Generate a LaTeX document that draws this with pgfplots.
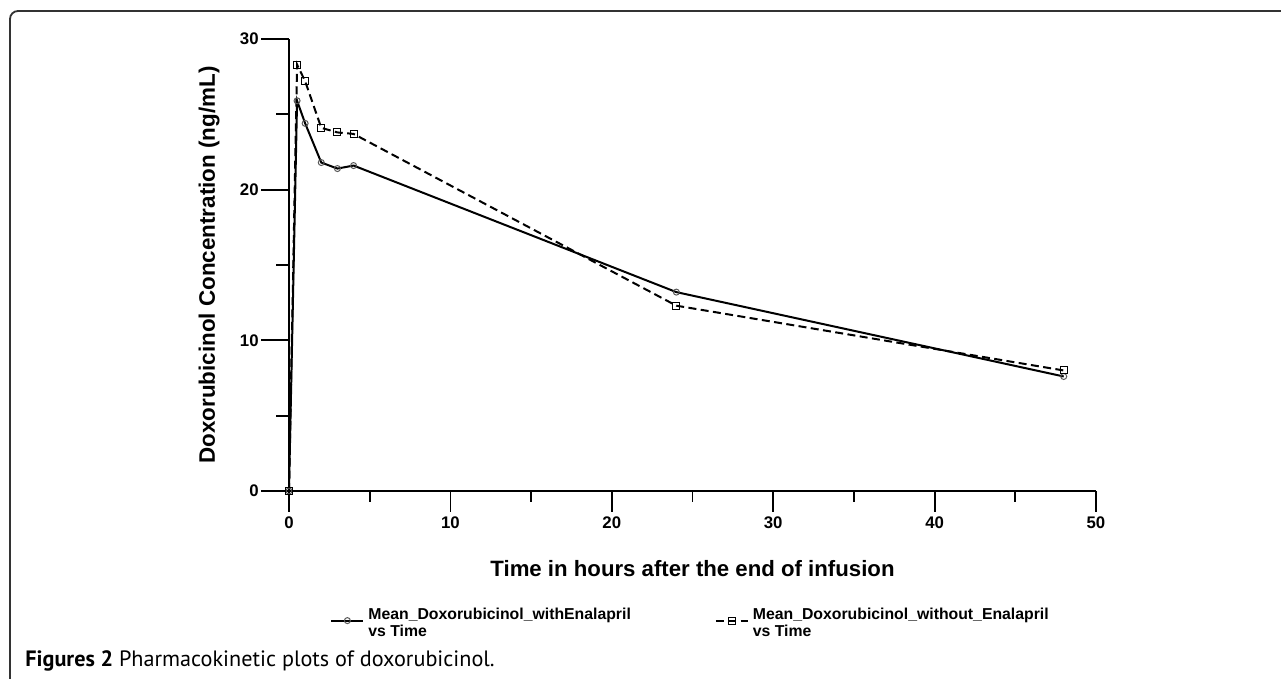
\documentclass[border=0pt]{standalone}
\usepackage{fontspec}
\setmainfont{Liberation Sans}
\newfontfamily\capfont{PT Sans}
\usepackage{pgfplots}
\pgfplotsset{compat=1.18}

% mean concentrations (ng/mL) vs time (h)
\pgfplotstableread{
t    c
0    0
0.5  25.9
1    24.4
2    21.8
3    21.4
4    21.6
24   13.2
48   7.6
}\withEna
\pgfplotstableread{
t    c
0    0
0.5  28.3
1    27.2
2    24.1
3    23.8
4    23.7
24   12.3
48   8.0
}\withoutEna

\pgfplotsset{
  common/.style={
    at={(144.5pt,94pt)}, anchor=south west,
    scale only axis, width=403.5pt, height=226pt,
    xmin=0, xmax=50, ymin=0, ymax=30,
    tick align=outside,
    axis line style={line width=1pt},
    every tick/.style={black, line width=0.9pt},
    /pgf/number format/assume math mode=true,
    ticklabel style={font=\fontsize{8.4}{9}\selectfont\bfseries},
  },
}

\begin{document}
\begin{tikzpicture}
\path[use as bounding box] (0,0) rectangle (640.5pt,339.5pt);
\draw[black!80, line width=0.9pt, rounded corners=4pt] (5pt,-1pt) -- (5pt,334pt) -- (642pt,334pt);

% y axis only
\begin{axis}[common,
  axis y line*=left, axis x line=none,
  ytick={0,10,20,30}, minor ytick={5,15,25},
  major tick length=14pt, minor tick length=6.5pt,
  yticklabel style={inner sep=1pt},
  ylabel={Doxorubicinol Concentration (ng/mL)},
  ylabel style={at={(axis description cs:-0.099,0.5)}, anchor=center,
    font=\fontsize{11.2}{13}\selectfont\bfseries},
]
\end{axis}

% x axis, data and legend
\begin{axis}[common,
  axis x line*=bottom, axis y line=none,
  xtick={0,10,20,30,40,50}, minor xtick={5,15,25,35,45},
  major tick length=10.5pt, minor tick length=5.5pt,
  xticklabel style={inner sep=2pt},
  xlabel={Time in hours after the end of infusion},
  xlabel style={at={(axis description cs:0.5,-0.19)}, anchor=base,
    font=\fontsize{11.1}{13}\selectfont\bfseries},
  clip=false,
  legend columns=2,
  legend image code/.code={
    \draw[mark repeat=2, mark phase=2, yshift=-2.5pt, #1] plot coordinates {(0pt,0pt) (8pt,0pt) (16pt,0pt)};},
  legend style={at={(axis description cs:0.0508,-0.25)}, anchor=north west,
    draw=none, fill=none, inner sep=0pt,
    font=\fontsize{7.9}{8}\selectfont\bfseries,
    cells={anchor=west},
    /tikz/every even column/.append style={column sep=40pt}},
]
\addplot[black, line width=1pt, mark=o, mark size=1.5pt,
  mark options={solid, draw=black!65, fill=white, line width=0.5pt}]
  table[x=t, y=c] {\withEna};
\addlegendentry{\begin{tabular}[t]{@{}l@{}}Mean\_Doxorubicinol\_withEnalapril\\vs Time\end{tabular}}
\addplot[black, line width=1pt, dash pattern=on 4pt off 2.2pt, mark=square, mark size=1.75pt,
  mark options={solid, draw=black, fill=white, line width=0.5pt}]
  table[x=t, y=c] {\withoutEna};
\addlegendentry{\begin{tabular}[t]{@{}l@{}}Mean\_Doxorubicinol\_without\_Enalapril\\vs Time\end{tabular}}
\end{axis}

\node[anchor=base west, inner sep=0pt, font=\capfont\fontsize{11.1}{13}\selectfont]
  at (12.5pt,6pt) {\textbf{Figures 2} Pharmacokinetic plots of doxorubicinol.};
\end{tikzpicture}
\end{document}
